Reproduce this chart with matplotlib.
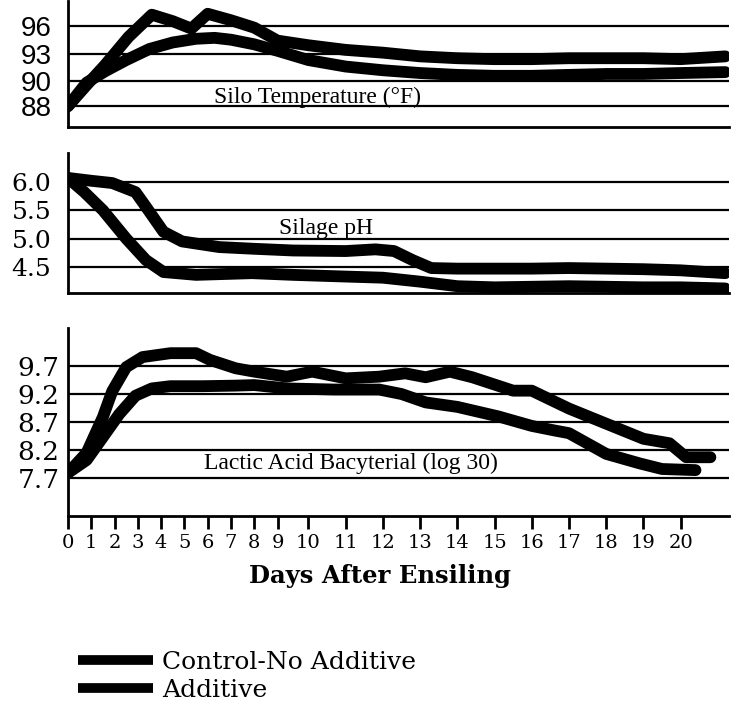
import numpy as np
import matplotlib
matplotlib.use('Agg')
import matplotlib.pyplot as plt
from matplotlib.lines import Line2D

# ---- data ----
temp_days_control = [0, 0.8, 1.6, 2.6, 3.6, 4.5, 5.3, 6.0, 7.0, 8.0, 9.0, 10.0, 11.0,
                     12.0, 13.0, 14.0, 15.0, 16.0, 17.0, 18.0, 19.0, 20.0, 21.2]
temp_control = [88.0, 89.7, 91.8, 94.8, 97.2, 96.5, 95.7, 97.3, 96.6, 95.8, 94.4, 93.9, 93.4,
                93.1, 92.7, 92.5, 92.4, 92.4, 92.5, 92.5, 92.5, 92.4, 92.7]
temp_days_add = [0, 0.8, 1.6, 2.5, 3.5, 4.5, 5.5, 6.3, 7.0, 8.0, 9.0, 10.0, 11.0,
                 12.0, 13.0, 14.0, 15.0, 16.0, 17.0, 18.0, 19.0, 20.0, 21.2]
temp_add = [88.0, 89.9, 91.1, 92.3, 93.5, 94.2, 94.6, 94.7, 94.5, 94.0, 93.3, 92.3, 91.6,
            91.2, 90.9, 90.7, 90.6, 90.6, 90.7, 90.8, 90.8, 90.9, 91.0]

ph_days_control = [0, 1.0, 1.9, 2.9, 3.35, 4.1, 4.9, 6.5, 8.0, 9.5, 11.0, 11.8, 12.3, 12.8,
                   13.3, 14.0, 15.0, 16.0, 17.0, 18.0, 19.0, 20.0, 21.2]
ph_control = [6.07, 6.02, 5.98, 5.82, 5.56, 5.12, 4.95, 4.85, 4.82, 4.79, 4.78, 4.81, 4.78, 4.62,
              4.48, 4.47, 4.47, 4.47, 4.48, 4.47, 4.46, 4.44, 4.39]
ph_days_add = [0, 0.7, 1.5, 2.5, 3.35, 4.1, 5.5, 7.9, 9.5, 11.0, 12.0, 13.0, 14.0, 15.0,
               16.0, 17.0, 18.0, 19.0, 20.0, 21.2]
ph_add = [6.07, 5.82, 5.5, 5.0, 4.62, 4.41, 4.36, 4.39, 4.36, 4.33, 4.31, 4.24, 4.16, 4.14,
          4.15, 4.16, 4.15, 4.14, 4.14, 4.12]

lab_days_control = [0, 0.8, 1.5, 2.2, 2.9, 3.6, 4.4, 5.8, 7.2, 8.0, 9.3, 10.7, 11.9, 12.5,
                    13.15, 14.0, 15.1, 16.0, 16.6, 17.0, 18.0, 18.9, 19.5, 20.4]
lab_control = [7.79, 8.02, 8.43, 8.84, 9.17, 9.3, 9.34, 9.34, 9.35, 9.36, 9.3, 9.28, 9.28, 9.2,
               9.05, 8.97, 8.8, 8.63, 8.55, 8.5, 8.13, 7.96, 7.86, 7.84]
lab_days_add = [0, 0.8, 1.5, 1.9, 2.5, 3.2, 4.4, 5.5, 6.1, 7.2, 8.0, 9.3, 10.1, 11.0, 11.9,
                12.6, 13.15, 13.8, 14.4, 15.5, 16.0, 17.0, 18.0, 19.0, 19.7, 20.15, 20.8]
lab_add = [7.79, 8.15, 8.79, 9.25, 9.68, 9.86, 9.93, 9.93, 9.81, 9.66, 9.6, 9.51, 9.6, 9.48, 9.51,
           9.57, 9.5, 9.6, 9.5, 9.26, 9.26, 8.94, 8.67, 8.4, 8.32, 8.07, 8.07]

day_ticks = list(range(21))
temp_ticks = [88, 90, 93, 96]
temp_labels = ['88', '90', '93', '96']
ph_ticks = [4.5, 5.0, 5.5, 6.0]
ph_labels = ['4.5', '5.0', '5.5', '6.0']
lab_ticks = [7.7, 8.2, 8.7, 9.2, 9.7]
lab_labels = ['7.7', '8.2', '8.7', '9.2', '9.7']

W, H = 740, 704


def piecewise(vals, pos):
    """Forward/inverse pair for a hand-drawn, unevenly spaced axis."""
    vals = np.asarray(vals, float)
    pos = np.asarray(pos, float)

    def make(a, b):
        def f(x):
            x = np.asarray(x, float)
            y = np.interp(x, a, b)
            y = np.where(x < a[0], b[0] + (x - a[0]) * (b[1] - b[0]) / (a[1] - a[0]), y)
            y = np.where(x > a[-1], b[-1] + (x - a[-1]) * (b[-1] - b[-2]) / (a[-1] - a[-2]), y)
            return y
        return f
    return make(vals, pos), make(pos, vals)


# x axis of the original is compressed for the first nine days
day_scale = piecewise([0, 9, 10, 20], [0, 210, 241, 614])
temp_scale = piecewise([88, 90, 93, 96], [0, 25, 53, 81])

fig = plt.figure(figsize=(W / 100, H / 100), dpi=100)


def px_axes(left, top, right, bottom):
    return fig.add_axes([left / W, 1 - bottom / H, (right - left) / W, (bottom - top) / H])


ax1 = px_axes(68, 1, 729, 127)
ax2 = px_axes(68, 153, 729, 293)
ax3 = px_axes(68, 328, 729, 516)

line_kw = dict(color='black', lw=8.5, solid_capstyle='round', solid_joinstyle='round')

for ax in (ax1, ax2, ax3):
    ax.set_xscale('function', functions=day_scale)
    ax.set_xlim(0, 21.3)
    for s in ('top', 'right'):
        ax.spines[s].set_visible(False)
    for s in ('left', 'bottom'):
        ax.spines[s].set_linewidth(2)
        ax.spines[s].set_color('black')
    ax.yaxis.grid(True, color='black', lw=1.6)
    ax.set_axisbelow(True)
    ax.tick_params(axis='y', length=0)

# panel 1: silo temperature
ax1.set_yscale('function', functions=temp_scale)
ax1.set_ylim(86.32, 98.68)
ax1.plot(temp_days_control, temp_control, **line_kw)
ax1.plot(temp_days_add, temp_add, **line_kw)
ax1.set_yticks(temp_ticks)
ax1.set_yticklabels(temp_labels, fontsize=20, family='Liberation Sans')
ax1.tick_params(axis='y', pad=12)
ax1.set_xticks([])
ax1.text(0.378, 0.236, 'Silo Temperature (°F)', transform=ax1.transAxes,
         ha='center', va='center', fontsize=17, family='Liberation Serif')

# panel 2: silage pH
ax2.set_ylim(4.04, 6.51)
ax2.plot(ph_days_control, ph_control, **line_kw)
ax2.plot(ph_days_add, ph_add, **line_kw)
ax2.set_yticks(ph_ticks)
ax2.set_yticklabels(ph_labels, fontsize=18, family='DejaVu Serif')
ax2.tick_params(axis='y', pad=12)
ax2.set_xticks([])
ax2.text(0.39, 0.464, 'Silage pH', transform=ax2.transAxes,
         ha='center', va='center', fontsize=17, family='Liberation Serif')

# panel 3: lactic acid bacteria
ax3.set_ylim(7.02, 10.38)
ax3.plot(lab_days_control, lab_control, **line_kw)
ax3.plot(lab_days_add, lab_add, **line_kw)
ax3.set_yticks(lab_ticks)
ax3.set_yticklabels(lab_labels, fontsize=19, family='DejaVu Serif')
ax3.tick_params(axis='y', pad=6)
ax3.set_xticks(day_ticks)
ax3.set_xticklabels([str(d) for d in day_ticks], fontsize=14, family='DejaVu Serif')
ax3.tick_params(axis='x', length=9, width=2, pad=4)
ax3.text(0.428, 0.282, 'Lactic Acid Bacyterial (log 30)', transform=ax3.transAxes,
         ha='center', va='center', fontsize=17, family='Liberation Serif')

fig.text(380 / W, 1 - 576 / H, 'Days After Ensiling', ha='center', va='center',
         fontsize=17.5, fontweight='bold', family='DejaVu Serif')

handles = [Line2D([], [], color='black', lw=7, solid_capstyle='butt'),
           Line2D([], [], color='black', lw=7, solid_capstyle='butt')]
fig.legend(handles, ['Control-No Additive', 'Additive'], loc='upper left',
           bbox_to_anchor=(78 / W, 1 - 651 / H), frameon=False, borderpad=0,
           borderaxespad=0, handlelength=3.0, handletextpad=0.35, labelspacing=0.2,
           prop={'family': 'DejaVu Serif', 'size': 18})

fig.savefig('out.png', dpi=100)
